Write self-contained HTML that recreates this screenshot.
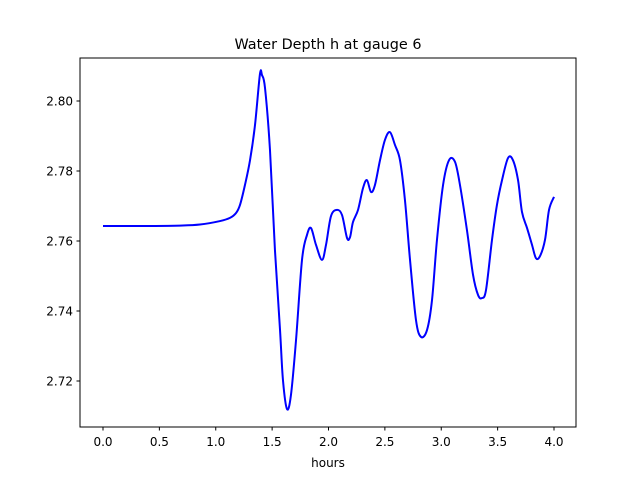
<!DOCTYPE html>
<html><head><meta charset="utf-8"><style>
body{margin:0;background:#fff;font-family:"Liberation Sans","DejaVu Sans",sans-serif}
svg text{font-family:"DejaVu Sans","Liberation Sans",sans-serif;font-size:12px;fill:#000}
</style></head><body>
<svg id="chart" width="640" height="480" xmlns="http://www.w3.org/2000/svg">
<rect width="640" height="480" fill="#fff"/>
<text x="328" y="49" text-anchor="middle" style="font-size:14.4px">Water Depth h at gauge 6</text>
<g id="ticks"></g>
<path id="line" fill="none" stroke="#0000ff" stroke-width="2"/>
<rect x="80" y="58" width="496" height="369" fill="none" stroke="#000" stroke-width="1"/>
<text x="328" y="467" text-anchor="middle">hours</text>
</svg>
<script>
const hours=[0,0.417,0.683,0.860,1.038,1.126,1.180,1.215,1.259,1.304,1.348,1.392,1.410,1.437,1.481,1.525,1.570,1.596,1.632,1.667,1.712,1.765,1.809,1.845,1.889,1.942,1.978,2.022,2.075,2.120,2.164,2.191,2.217,2.262,2.306,2.341,2.377,2.412,2.457,2.501,2.545,2.590,2.634,2.678,2.723,2.776,2.820,2.874,2.918,2.962,3.016,3.069,3.122,3.166,3.228,3.282,3.326,3.361,3.397,3.450,3.494,3.539,3.592,3.636,3.681,3.716,3.761,3.805,3.840,3.876,3.920,3.956,4.000];
const depth=[2.7643,2.7643,2.7644,2.7647,2.7657,2.7666,2.7680,2.7703,2.7760,2.7831,2.7931,2.8077,2.8074,2.8037,2.7860,2.7574,2.7346,2.7203,2.7120,2.7160,2.7317,2.7546,2.7617,2.7637,2.7589,2.7546,2.7589,2.7671,2.7689,2.7674,2.7609,2.7611,2.7654,2.7689,2.7751,2.7774,2.7740,2.7760,2.7831,2.7889,2.7911,2.7874,2.7831,2.7717,2.7546,2.7374,2.7326,2.7346,2.7431,2.7603,2.7760,2.7831,2.7826,2.7760,2.7631,2.7503,2.7446,2.7437,2.7460,2.7603,2.7703,2.7774,2.7837,2.7831,2.7774,2.7683,2.7637,2.7589,2.7551,2.7557,2.7603,2.7689,2.7726];
const xTicks=[0,0.5,1,1.5,2,2.5,3,3.5,4];
const xTickLabels=["0.0","0.5","1.0","1.5","2.0","2.5","3.0","3.5","4.0"];
const yTicks=[2.72,2.74,2.76,2.78,2.80];
const yTickLabels=["2.72","2.74","2.76","2.78","2.80"];
const X=v=>103+v*112.75;
const Y=v=>101-(v-2.80)*3500;
const g=document.getElementById('ticks');
const NS="http://www.w3.org/2000/svg";
xTicks.forEach((t,i)=>{
 const l=document.createElementNS(NS,'line');
 
 
 l.setAttribute('x1',X(t));l.setAttribute('x2',X(t));l.setAttribute('y1',427);l.setAttribute('y2',430.5);l.setAttribute('stroke','#000');
 g.appendChild(l);
 const tx=document.createElementNS(NS,'text');
 
 
 tx.setAttribute('x',X(t));tx.setAttribute('y',446);tx.setAttribute('text-anchor','middle');tx.textContent=xTickLabels[i];
 g.appendChild(tx);
});
yTicks.forEach((t,i)=>{
 const l=document.createElementNS(NS,'line');
 
 
 l.setAttribute('x1',76.5);l.setAttribute('x2',80);l.setAttribute('y1',Y(t));l.setAttribute('y2',Y(t));l.setAttribute('stroke','#000');
 g.appendChild(l);
 const tx=document.createElementNS(NS,'text');
 
 
 tx.setAttribute('x',73);tx.setAttribute('y',Y(t)+4.5);tx.setAttribute('text-anchor','end');tx.textContent=yTickLabels[i];
 g.appendChild(tx);
});
const p=hours.map((h,i)=>[X(h),Y(depth[i])]);
let d='M'+p[0][0]+','+p[0][1];
for(let i=0;i<p.length-1;i++){
 const p0=p[Math.max(0,i-1)],p1=p[i],p2=p[i+1],p3=p[Math.min(p.length-1,i+2)];
 const c1=[p1[0]+(p2[0]-p0[0])/6,p1[1]+(p2[1]-p0[1])/6];
 const c2=[p2[0]-(p3[0]-p1[0])/6,p2[1]-(p3[1]-p1[1])/6];
 d+=` C${c1[0]},${c1[1]} ${c2[0]},${c2[1]} ${p2[0]},${p2[1]}`;
}
document.getElementById('line').setAttribute('d',d);
</script>
</body></html>
